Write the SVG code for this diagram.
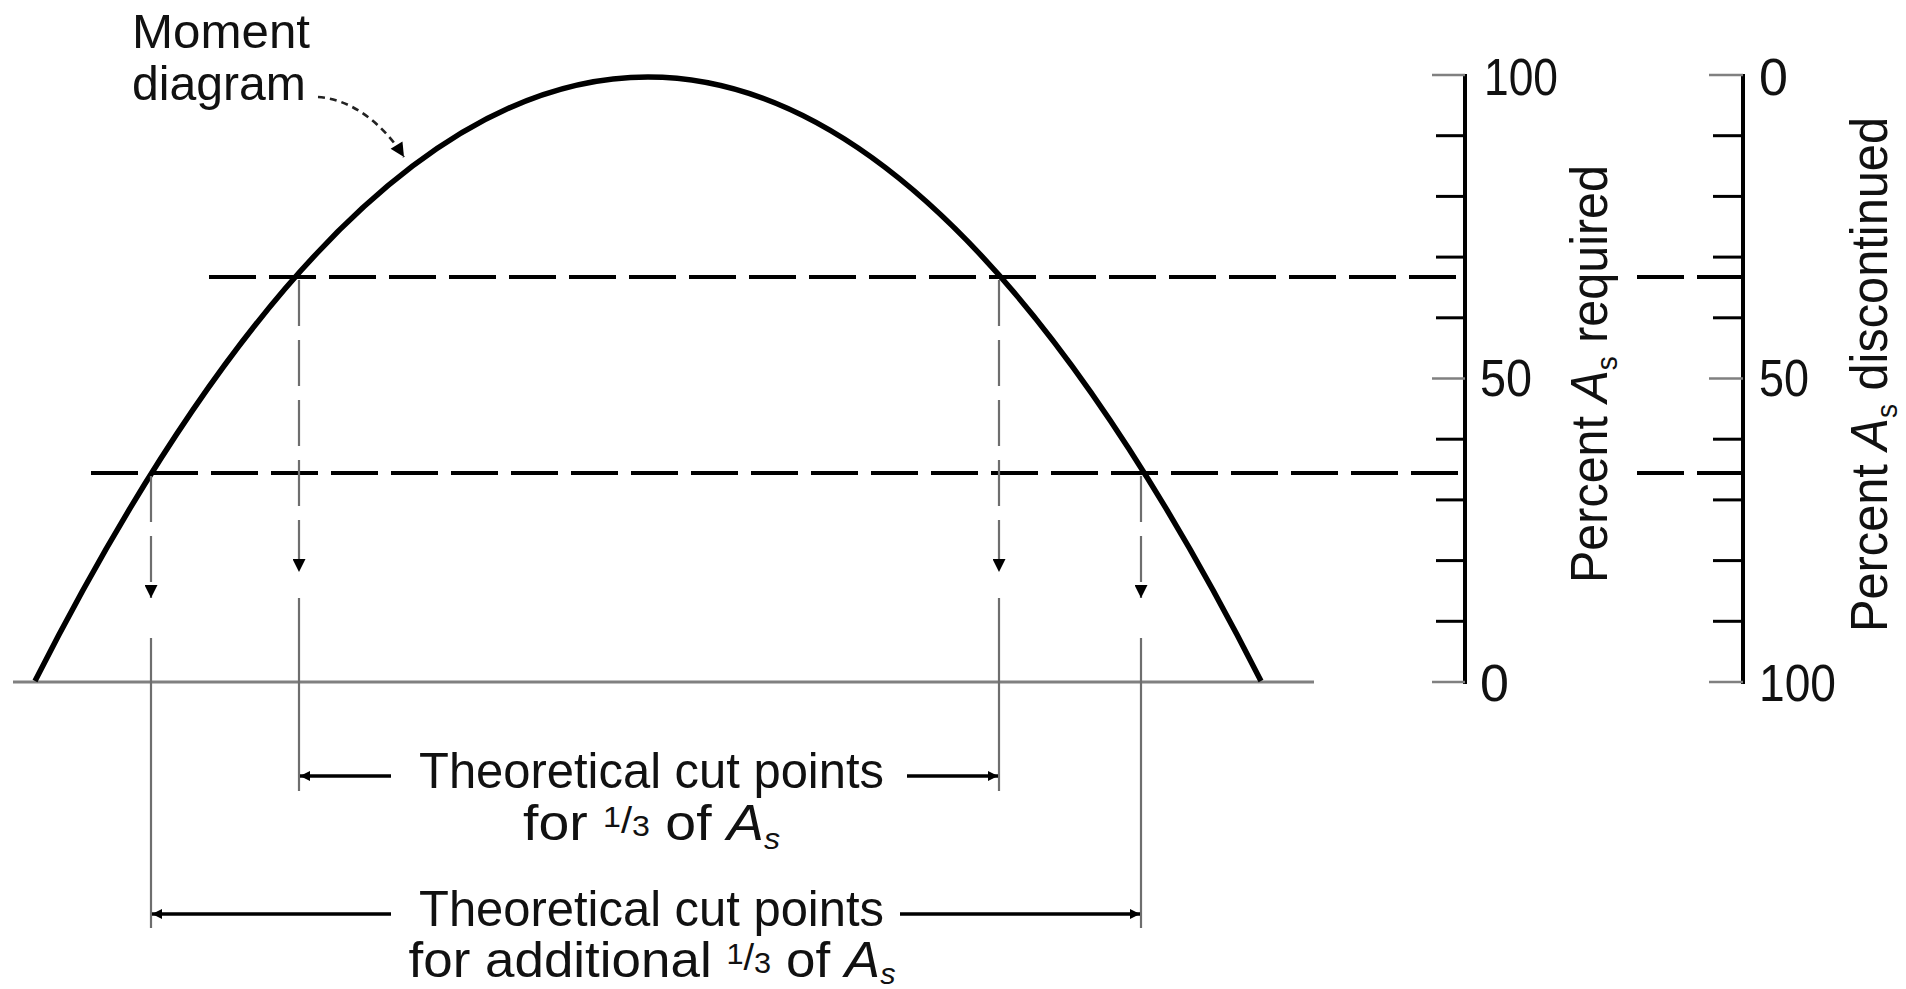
<svg xmlns="http://www.w3.org/2000/svg" width="1906" height="989" viewBox="0 0 1906 989">
<style>
.curve{fill:none;stroke:#000;stroke-width:5.5}
.dash{stroke:#000;stroke-width:4;stroke-dasharray:47 13;fill:none}
.proj{stroke:#6e6e6e;stroke-width:2.2;stroke-dasharray:46 14;fill:none}
.ext{stroke:#6e6e6e;stroke-width:2.2;fill:none}
.dim{stroke:#000;stroke-width:3.5;fill:none}
.axis{stroke:#000;stroke-width:4;fill:none}
.tk{stroke:#000;stroke-width:3}
.tkm{stroke:#808080;stroke-width:2.5}
.base{stroke:#808080;stroke-width:3}
.lead{fill:none;stroke:#222;stroke-width:2.6;stroke-dasharray:7 5}
.t{font-family:"Liberation Sans",Arial,sans-serif;font-size:52px;fill:#111}
.b{font-family:"Liberation Sans",Arial,sans-serif;font-size:50px;fill:#111}
.m{font-family:"Liberation Sans",Arial,sans-serif;font-size:48px;fill:#111}
.n{font-family:"Liberation Sans",Arial,sans-serif;font-size:52px;fill:#111}
</style>
<defs>
<marker id="down" viewBox="0 0 10 10" refX="10" refY="5" markerUnits="userSpaceOnUse" markerWidth="22" markerHeight="13" orient="auto"><path d="M0,0 L10,5 L0,10 z" fill="#000"/></marker>
<marker id="dimh" viewBox="0 0 10 10" refX="10" refY="5" markerUnits="userSpaceOnUse" markerWidth="14" markerHeight="10" orient="auto"><path d="M0,0 L10,5 L0,10 z" fill="#000"/></marker>
<marker id="lead" viewBox="0 0 10 10" refX="10" refY="5" markerUnits="userSpaceOnUse" markerWidth="20" markerHeight="14" orient="auto"><path d="M0,0 L10,5 L0,10 z" fill="#000"/></marker>
</defs>
<rect width="1906" height="989" fill="#fff"/>

<g id="baseline"><line class="base" x1="13" y1="682" x2="1314" y2="682"/></g>

<g id="moment-curve"><path class="curve" d="M35,681 Q648,-527 1261,681"/></g>

<g id="moment-label">
<text class="m" x="132" y="48" textLength="178" lengthAdjust="spacingAndGlyphs">Moment</text>
<text class="m" x="132" y="100" textLength="174" lengthAdjust="spacingAndGlyphs">diagram</text>
</g>

<g id="connectors">
<path class="lead" d="M318,97 C350,99 382,122 404,157" marker-end="url(#lead)"/>
<line class="dash" x1="209" y1="277" x2="1465" y2="277"/>
<line class="dash" x1="1637" y1="277" x2="1743" y2="277"/>
<line class="dash" x1="91" y1="473" x2="1465" y2="473"/>
<line class="dash" x1="1637" y1="473" x2="1743" y2="473"/>
<line class="proj" x1="299" y1="280" x2="299" y2="572" marker-end="url(#down)"/>
<line class="proj" x1="999" y1="280" x2="999" y2="572" marker-end="url(#down)"/>
<line class="proj" x1="151" y1="476" x2="151" y2="598" marker-end="url(#down)"/>
<line class="proj" x1="1141" y1="476" x2="1141" y2="598" marker-end="url(#down)"/>
<line class="ext" x1="299" y1="598" x2="299" y2="791"/>
<line class="ext" x1="999" y1="598" x2="999" y2="791"/>
<line class="ext" x1="151" y1="638" x2="151" y2="928"/>
<line class="ext" x1="1141" y1="638" x2="1141" y2="928"/>
<line class="dim" x1="391" y1="776" x2="300" y2="776" marker-end="url(#dimh)"/>
<line class="dim" x1="907" y1="776" x2="998" y2="776" marker-end="url(#dimh)"/>
<line class="dim" x1="391" y1="914" x2="152" y2="914" marker-end="url(#dimh)"/>
<line class="dim" x1="900" y1="914" x2="1140" y2="914" marker-end="url(#dimh)"/>
</g>

<g id="label-one-third">
<text class="b" x="651.5" y="788" text-anchor="middle" textLength="465" lengthAdjust="spacingAndGlyphs">Theoretical cut points</text>
<text class="b" x="651.5" y="840" text-anchor="middle" textLength="257" lengthAdjust="spacingAndGlyphs">for <tspan font-size="29" dy="-13">1</tspan><tspan font-size="36" dy="6">/</tspan><tspan font-size="29" dy="3">3</tspan><tspan dy="4"> of </tspan><tspan font-style="italic">A</tspan><tspan font-size="29" font-style="italic" dy="9">s</tspan></text>
</g>

<g id="label-additional-third">
<text class="b" x="651.5" y="926" text-anchor="middle" textLength="465" lengthAdjust="spacingAndGlyphs">Theoretical cut points</text>
<text class="b" x="652" y="977" text-anchor="middle" textLength="487" lengthAdjust="spacingAndGlyphs">for additional <tspan font-size="29" dy="-13">1</tspan><tspan font-size="36" dy="6">/</tspan><tspan font-size="29" dy="3">3</tspan><tspan dy="4"> of </tspan><tspan font-style="italic">A</tspan><tspan font-size="29" font-style="italic" dy="7">s</tspan></text>
</g>

<g id="scale-required">
<line class="axis" x1="1465" y1="74" x2="1465" y2="684"/>
<line class="tkm" x1="1432" y1="75" x2="1465" y2="75"/>
<line class="tk" x1="1436" y1="135.7" x2="1465" y2="135.7"/>
<line class="tk" x1="1436" y1="196.4" x2="1465" y2="196.4"/>
<line class="tk" x1="1436" y1="257.1" x2="1465" y2="257.1"/>
<line class="tk" x1="1436" y1="317.8" x2="1465" y2="317.8"/>
<line class="tkm" x1="1432" y1="378.5" x2="1465" y2="378.5"/>
<line class="tk" x1="1436" y1="439.2" x2="1465" y2="439.2"/>
<line class="tk" x1="1436" y1="499.9" x2="1465" y2="499.9"/>
<line class="tk" x1="1436" y1="560.6" x2="1465" y2="560.6"/>
<line class="tk" x1="1436" y1="621.3" x2="1465" y2="621.3"/>
<line class="tkm" x1="1432" y1="682" x2="1465" y2="682"/>
<text class="n" x="1484" y="95" textLength="74" lengthAdjust="spacingAndGlyphs">100</text>
<text class="n" x="1480" y="396" textLength="52" lengthAdjust="spacingAndGlyphs">50</text>
<text class="n" x="1480" y="701">0</text>
<text class="t" transform="translate(1607,374) rotate(-90)" text-anchor="middle" textLength="418" lengthAdjust="spacingAndGlyphs">Percent <tspan font-style="italic">A</tspan><tspan font-size="30" dy="10">s</tspan><tspan dy="-10"> required</tspan></text>
</g>

<g id="scale-discontinued">
<line class="axis" x1="1743" y1="74" x2="1743" y2="684"/>
<line class="tkm" x1="1709" y1="75" x2="1743" y2="75"/>
<line class="tk" x1="1713" y1="135.7" x2="1743" y2="135.7"/>
<line class="tk" x1="1713" y1="196.4" x2="1743" y2="196.4"/>
<line class="tk" x1="1713" y1="257.1" x2="1743" y2="257.1"/>
<line class="tk" x1="1713" y1="317.8" x2="1743" y2="317.8"/>
<line class="tkm" x1="1709" y1="378.5" x2="1743" y2="378.5"/>
<line class="tk" x1="1713" y1="439.2" x2="1743" y2="439.2"/>
<line class="tk" x1="1713" y1="499.9" x2="1743" y2="499.9"/>
<line class="tk" x1="1713" y1="560.6" x2="1743" y2="560.6"/>
<line class="tk" x1="1713" y1="621.3" x2="1743" y2="621.3"/>
<line class="tkm" x1="1709" y1="682" x2="1743" y2="682"/>
<text class="n" x="1759" y="95">0</text>
<text class="n" x="1759" y="396" textLength="50" lengthAdjust="spacingAndGlyphs">50</text>
<text class="n" x="1759" y="701" textLength="77" lengthAdjust="spacingAndGlyphs">100</text>
<text class="t" transform="translate(1887,374.5) rotate(-90)" text-anchor="middle" textLength="515" lengthAdjust="spacingAndGlyphs">Percent <tspan font-style="italic">A</tspan><tspan font-size="30" dy="10">s</tspan><tspan dy="-10"> discontinued</tspan></text>
</g>
</svg>
